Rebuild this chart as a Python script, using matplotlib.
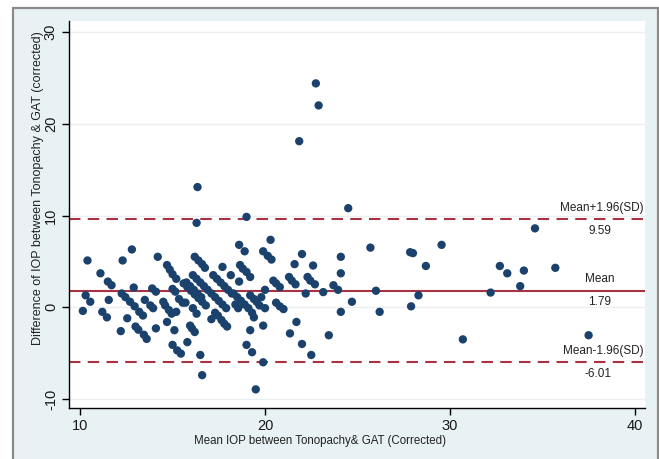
import matplotlib
matplotlib.use("Agg")
import matplotlib.pyplot as plt
from matplotlib.patches import Rectangle

# Mean IOP (x) and difference (y)
mean_iop = [
    10.15, 10.3, 10.55, 10.4,
    11.1, 11.5, 11.7, 11.2, 11.45, 11.55,
    12.2, 12.3, 12.8, 12.25, 12.45, 12.7, 12.95, 13.2, 13.4, 12.55, 12.9,
    13.0, 13.15, 13.45, 13.6,
    13.5, 13.8, 13.95, 13.9, 14.1, 14.1, 14.2,
    14.5, 14.6, 14.8, 14.95, 14.7, 15.1,
    14.7, 14.85, 15.0, 15.2,
    15.0, 15.15, 15.2,
    15.0, 15.25, 15.45, 15.8,
    15.95, 16.05, 16.2,
    15.6, 15.8, 16.0, 16.2, 16.4, 16.6, 16.8,
    15.75, 15.95, 16.15, 16.35, 16.55,
    15.7, 16.1, 16.3,
    16.2, 16.4, 16.6, 16.75,
    16.1, 16.3, 16.5, 16.7, 16.9, 17.1, 17.3, 17.5, 17.7, 17.9,
    16.35, 16.3, 16.5, 16.6,
    17.2, 17.4, 17.6, 17.8, 18.0, 18.2,
    17.45, 17.65, 17.8, 17.95,
    17.7, 18.15,
    18.3, 18.5, 18.7, 18.9, 19.1, 19.3, 19.4,
    18.6, 18.9,
    18.65, 18.8, 19.0, 19.2,
    18.6, 19.0,
    19.2, 19.0, 19.3, 19.5, 19.9, 19.9,
    19.2, 19.4, 19.55, 19.7, 20.0,
    19.9, 20.15, 20.35, 20.3,
    20.0, 19.8,
    20.45, 20.6, 20.8,
    20.6, 20.8, 21.0,
    21.35, 21.7, 22.0, 22.5,
    21.6, 22.0,
    21.3, 21.45, 21.65,
    22.2, 22.3, 22.45, 22.7, 22.6,
    23.15, 23.45, 23.7, 23.95, 24.1, 24.1, 24.1, 24.7,
    21.85, 22.75, 22.9, 24.5,
    25.7, 26.0, 26.2, 27.85, 28.0, 28.7, 28.3, 27.9, 29.55, 30.7,
    32.2, 32.7, 33.1, 34.0, 33.8, 34.6, 35.7, 37.5,
    17.1, 17.3, 18.4, 18.55, 15.35, 15.55,
]
diff_iop = [
    -0.4, 1.3, 0.6, 5.1,
    3.7, 2.8, 2.4, -0.5, -1.1, 0.8,
    -2.6, 5.1, 6.3, 1.5, 1.1, 0.6, 0.1, -0.5, -0.9, -1.2, 2.15,
    -2.1, -2.45, -3.0, -3.45,
    0.8, 0.2, -0.1, 2.05, 1.7, -2.3, 5.5,
    0.6, 0.2, -0.3, -0.7, -1.6, -2.5,
    4.6, 4.1, 3.6, 3.1,
    2.0, 1.7, -0.5,
    -4.1, -4.7, -5.05, -3.8,
    -2.0, -2.3, -2.7,
    2.6, 2.2, 1.8, 1.4, 1.0, 0.6, 0.2,
    2.7, 2.3, 1.9, 1.5, 1.1,
    0.5, -0.1, -0.7,
    5.5, 5.1, 4.7, 4.3,
    3.5, 3.1, 2.7, 2.3, 1.9, 1.5, 1.1, 0.7, 0.3, -0.1,
    13.1, 9.2, -5.2, -7.4,
    3.5, 3.1, 2.7, 2.3, 1.9, 1.5,
    -0.9, -1.4, -1.8, -2.1,
    4.4, 3.5,
    1.5, 1.1, 0.7, 0.3, -0.1, -0.6, -1.1,
    6.8, 6.1,
    4.6, 4.2, 3.85, 3.3,
    2.8, 9.85,
    -2.5, -4.1, -4.9, -8.95, -6.0, -2.0,
    1.3, 0.9, 0.6, 0.2, -0.1,
    6.1, 5.6, 5.2, 7.35,
    1.9, 1.1,
    2.9, 2.6, 2.2,
    0.5, 0.1, -0.2,
    -2.85, -1.6, -4.0, -5.2,
    4.7, 5.8,
    3.3, 2.9, 2.5,
    1.5, 3.3, 2.9, 2.5, 4.55,
    1.65, -3.05, 2.4, 1.9, 3.7, 5.5, -0.5, 0.6,
    18.1, 24.4, 22.0, 10.8,
    6.5, 1.8, -0.5, 6.0, 5.9, 4.5, 1.3, 0.1, 6.8, -3.5,
    1.6, 4.5, 3.7, 4.0, 2.3, 8.6, 4.3, -3.05,
    -1.3, -0.6, 0.3, -0.1, 0.9, 0.5,
]

mean_diff = 1.79
upper_loa = 9.59
lower_loa = -6.01
x_ticks = [10, 20, 30, 40]
y_ticks = [-10, 0, 10, 20, 30]

W, H = 659, 459
fig = plt.figure(figsize=(W / 100, H / 100), dpi=100)
fig.patch.set_facecolor("white")
bg = Rectangle((13 / W, -0.05), (658 - 13) / W, 1 - 8 / H + 0.05,
               transform=fig.transFigure, facecolor="#e8f1f4",
               edgecolor="#8a8a8a", linewidth=1.6, zorder=-10)
fig.patches.append(bg)

ax = fig.add_axes([69 / W, 1 - 408 / H, (645 - 69) / W, (408 - 21) / H])
ax.set_facecolor("white")
ax.set_xlim(9.4, 40.55)
ax.set_ylim(-10.98, 31.2)

for yt in y_ticks:
    ax.axhline(yt, color="#eceff1", linewidth=1.0, zorder=0)

line_col = "#a83242"
ax.axhline(mean_diff, color=line_col, linewidth=1.5, zorder=1)
ax.axhline(upper_loa, color=line_col, linewidth=1.5, linestyle=(0, (5.5, 3.5)), zorder=1)
ax.axhline(lower_loa, color=line_col, linewidth=1.5, linestyle=(0, (5.5, 3.5)), zorder=1)

ax.scatter(mean_iop, diff_iop, s=36, color="#1b426c", edgecolors="none", zorder=3)

for s in ["top", "right"]:
    ax.spines[s].set_visible(False)
for s in ["left", "bottom"]:
    ax.spines[s].set_color("black")
    ax.spines[s].set_linewidth(1.0)

ax.set_xticks(x_ticks)
ax.set_yticks(y_ticks)
ax.set_xticklabels([str(v) for v in x_ticks], fontsize=10.5, family="Liberation Sans", color="#1a1a1a")
ax.set_yticklabels([str(v) for v in y_ticks], fontsize=10.5, family="Liberation Sans", color="#1a1a1a",
                   rotation=90, va="center")
ax.tick_params(axis="both", direction="out", length=5, width=1, color="black", pad=3)

fs = 8.5
txt_col = "#222222"
ax.text(40.45, upper_loa + 0.6, "Mean+1.96(SD)", ha="right", va="bottom", fontsize=fs,
        family="Liberation Sans", color=txt_col)
ax.text(38.1, upper_loa - 0.6, f"{upper_loa:.2f}", ha="center", va="top", fontsize=fs,
        family="Liberation Sans", color=txt_col)
ax.text(38.1, mean_diff + 0.6, "Mean", ha="center", va="bottom", fontsize=fs,
        family="Liberation Sans", color=txt_col)
ax.text(38.1, mean_diff - 0.6, f"{mean_diff:.2f}", ha="center", va="top", fontsize=fs,
        family="Liberation Sans", color=txt_col)
ax.text(40.45, lower_loa + 0.6, "Mean-1.96(SD)", ha="right", va="bottom", fontsize=fs,
        family="Liberation Sans", color=txt_col)
ax.text(38.0, lower_loa - 0.6, f"{lower_loa:.2f}", ha="center", va="top", fontsize=fs,
        family="Liberation Sans", color=txt_col)

fig.text(320 / W, 1 - 441 / H, "Mean IOP between Tonopachy& GAT (Corrected)", ha="center", va="center",
         fontsize=8.3, family="Liberation Sans", color=txt_col)
fig.text(38 / W, 1 - 188 / H, "Difference of IOP between Tonopachy & GAT (corrected)", ha="center",
         va="center", rotation=90, fontsize=9, family="Liberation Sans", color=txt_col)

fig.savefig("out.png", dpi=100, facecolor=fig.get_facecolor())
